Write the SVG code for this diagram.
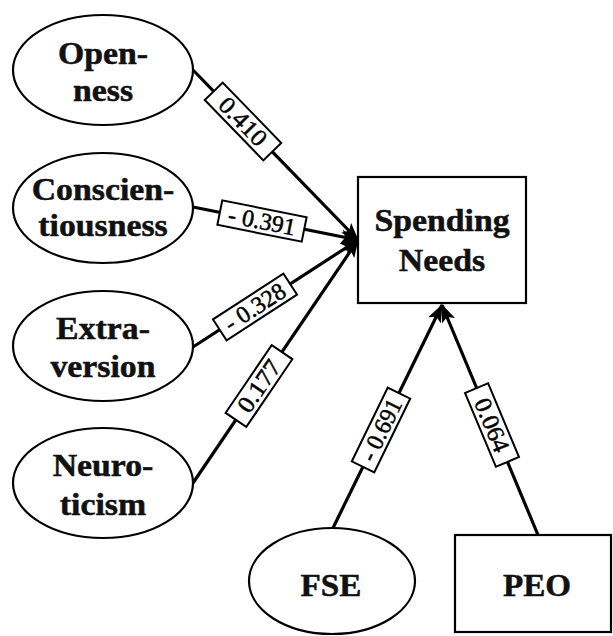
<svg xmlns="http://www.w3.org/2000/svg" width="613" height="636" viewBox="0 0 613 636">
<style>
.shape{fill:#fff;stroke:#000;stroke-width:2.2}
.nt{font-family:"Liberation Serif","Times New Roman",serif;font-weight:bold;font-size:31px;fill:#111;stroke:#111;stroke-width:0.5;text-anchor:middle}
.edge{stroke:#000;stroke-width:3.2;fill:none}
.lb{fill:#fff;stroke:#000;stroke-width:2}
.lt{font-family:"Liberation Serif","Times New Roman",serif;font-size:24px;fill:#000;stroke:#000;stroke-width:0.5;text-anchor:middle}
</style>
<defs>
<marker id="arr" viewBox="0 0 18 14" refX="17" refY="7" markerWidth="18" markerHeight="14" markerUnits="userSpaceOnUse" orient="auto">
<path d="M0,0 L18,7 L0,14 L4,7 z" fill="#000"/>
</marker>
</defs>
<rect width="613" height="636" fill="#fff"/>
<g id="connectors">
<line class="edge" x1="193" y1="70" x2="358" y2="240" marker-end="url(#arr)"/>
<line class="edge" x1="193" y1="207" x2="358" y2="240" marker-end="url(#arr)"/>
<line class="edge" x1="193" y1="347" x2="358" y2="240" marker-end="url(#arr)"/>
<line class="edge" x1="193" y1="483" x2="358" y2="240" marker-end="url(#arr)"/>
<line class="edge" x1="333" y1="528" x2="442" y2="305" marker-end="url(#arr)"/>
<line class="edge" x1="538" y1="535" x2="442" y2="305" marker-end="url(#arr)"/>
<g transform="translate(243,121.5) rotate(45.8)"><rect class="lb" x="-42" y="-12.5" width="84" height="25"/><text class="lt" x="0" y="8" textLength="58" lengthAdjust="spacingAndGlyphs">0.410</text></g>
<g transform="translate(262,221) rotate(11.3)"><rect class="lb" x="-43" y="-12.5" width="86" height="25"/><text class="lt" x="0" y="8" textLength="68" lengthAdjust="spacingAndGlyphs">- 0.391</text></g>
<g transform="translate(255,307) rotate(-33)"><rect class="lb" x="-42" y="-12.5" width="84" height="25"/><text class="lt" x="0" y="8" textLength="68" lengthAdjust="spacingAndGlyphs">- 0.328</text></g>
<g transform="translate(259,386) rotate(-55.8)"><rect class="lb" x="-41" y="-12.5" width="82" height="25"/><text class="lt" x="0" y="8" textLength="58" lengthAdjust="spacingAndGlyphs">0.177</text></g>
<g transform="translate(381,430) rotate(-64)"><rect class="lb" x="-41" y="-12.5" width="82" height="25"/><text class="lt" x="0" y="8" textLength="66" lengthAdjust="spacingAndGlyphs">- 0.691</text></g>
<g transform="translate(492,425) rotate(67.3)"><rect class="lb" x="-40" y="-12.5" width="80" height="25"/><text class="lt" x="0" y="8" textLength="56" lengthAdjust="spacingAndGlyphs">0.064</text></g>
</g>
<g id="openness">
<ellipse class="shape" cx="103" cy="70" rx="90" ry="55"/>
<g transform="translate(103,0) scale(1.09,1)"><text class="nt" x="0" y="64">Open-</text><text class="nt" x="0" y="101">ness</text></g>
</g>
<g id="conscientiousness">
<ellipse class="shape" cx="103" cy="208" rx="90" ry="55"/>
<g transform="translate(103,0) scale(1.09,1)"><text class="nt" x="0" y="200">Conscien-</text><text class="nt" x="0" y="236">tiousness</text></g>
</g>
<g id="extraversion">
<ellipse class="shape" cx="103" cy="346" rx="90" ry="55"/>
<g transform="translate(103,0) scale(1.09,1)"><text class="nt" x="0" y="339">Extra-</text><text class="nt" x="0" y="377">version</text></g>
</g>
<g id="neuroticism">
<ellipse class="shape" cx="103" cy="483" rx="90" ry="55"/>
<g transform="translate(103,0) scale(1.09,1)"><text class="nt" x="0" y="476">Neuro-</text><text class="nt" x="0" y="515">ticism</text></g>
</g>
<g id="spending-needs">
<rect class="shape" x="358" y="177" width="168" height="126"/>
<g transform="translate(442,0) scale(1.09,1)"><text class="nt" x="0" y="231">Spending</text><text class="nt" x="0" y="271">Needs</text></g>
</g>
<g id="fse">
<ellipse class="shape" cx="332" cy="581" rx="83" ry="53"/>
<g transform="translate(331,0) scale(1.07,1)"><text class="nt" x="0" y="596">FSE</text></g>
</g>
<g id="peo">
<rect class="shape" x="455" y="535" width="156" height="97"/>
<g transform="translate(537,0) scale(1.07,1)"><text class="nt" x="0" y="596">PEO</text></g>
</g>
</svg>
